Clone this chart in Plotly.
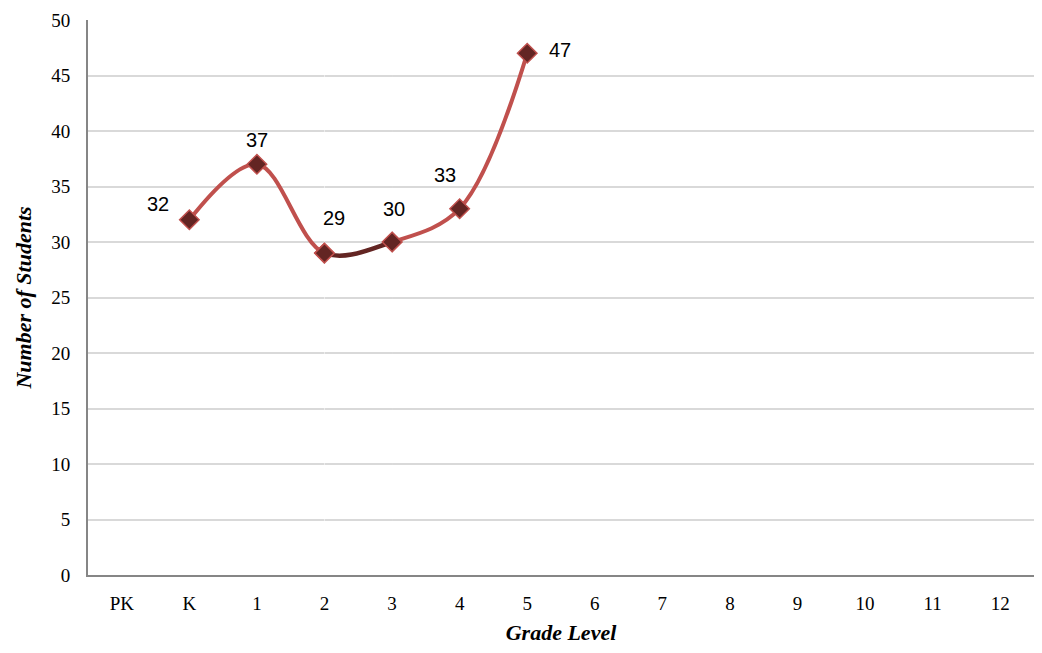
import plotly.graph_objects as go

categories = ["PK", "K", "1", "2", "3", "4", "5", "6", "7", "8", "9", "10", "11", "12"]
grades = ["K", "1", "2", "3", "4", "5"]
students = [32, 37, 29, 30, 33, 47]
highlight_from = "2"
highlight_to = "3"
y_ticks = [0, 5, 10, 15, 20, 25, 30, 35, 40, 45, 50]

# label offsets in pixels (dx, dy)
label_offsets = [(-31, 16), (0, 24), (9, 35), (2, 33), (-15, 34), (33, 3)]

RED = "#C0504D"
DARK = "#632523"

n = len(categories)
i0 = categories.index(highlight_from)
i1 = categories.index(highlight_to)
# domain of a second x axis that covers exactly the highlighted segment,
# with the same scale as the main axis, so the spline shape is identical
dom = [(i0 + 0.5) / n, (i1 + 0.5) / n]

marker_style = dict(symbol="diamond", size=15, color=DARK, line=dict(color=RED, width=1.5))

fig = go.Figure()
fig.add_trace(go.Scatter(
    x=grades, y=students, mode="lines",
    line=dict(color=RED, width=4, shape="spline", smoothing=1.0),
    hoverinfo="skip", showlegend=False,
))
fig.add_trace(go.Scatter(
    x=grades, y=students, mode="markers",
    marker=marker_style, cliponaxis=False, showlegend=False,
))
fig.add_trace(go.Scatter(
    x=grades, y=students, mode="lines", xaxis="x2", yaxis="y",
    line=dict(color=DARK, width=4.5, shape="spline", smoothing=1.0),
    hoverinfo="skip", showlegend=False,
))
fig.add_trace(go.Scatter(
    x=grades, y=students, mode="markers", xaxis="x2", yaxis="y",
    marker=marker_style, cliponaxis=False, showlegend=False,
))

for g, v, (dx, dy) in zip(grades, students, label_offsets):
    fig.add_annotation(
        x=categories.index(g), y=v, xref="x", yref="y", text=str(v), showarrow=False,
        xshift=dx, yshift=dy,
        font=dict(family="Liberation Sans, Arial, sans-serif", size=20, color="black"),
    )

serif = "Liberation Serif, Times New Roman, serif"
fig.update_layout(
    width=1026, height=637,
    margin=dict(l=80, r=0, t=12, b=70),
    plot_bgcolor="white", paper_bgcolor="white",
    xaxis=dict(
        type="category", categoryorder="array", categoryarray=categories,
        tickvals=categories, range=[-0.5, n - 0.5], domain=[0, 1],
        showgrid=False, showline=True, linecolor="#868686", linewidth=2,
        ticks="", ticklabelstandoff=10, tickfont=dict(family=serif, size=19, color="black"),
        title=dict(text="<b><i>Grade Level</i></b>", font=dict(family=serif, size=22, color="black"), standoff=14),
        zeroline=False,
    ),
    xaxis2=dict(
        type="category", categoryorder="array", categoryarray=categories,
        range=[i0, i1], domain=dom, anchor="y",
        showgrid=False, showline=False, showticklabels=False, ticks="", zeroline=False,
    ),
    yaxis=dict(
        range=[0, 50], tickvals=y_ticks,
        showgrid=True, gridcolor="#D9D9D9", gridwidth=1.5,
        showline=True, linecolor="#868686", linewidth=2,
        ticks="", ticklen=0, ticklabelstandoff=12, tickfont=dict(family=serif, size=19, color="black"),
        title=dict(text="<b><i>Number of Students</i></b>", font=dict(family=serif, size=22, color="black"), standoff=14),
        zeroline=False,
    ),
)

fig.write_html("out.html")
